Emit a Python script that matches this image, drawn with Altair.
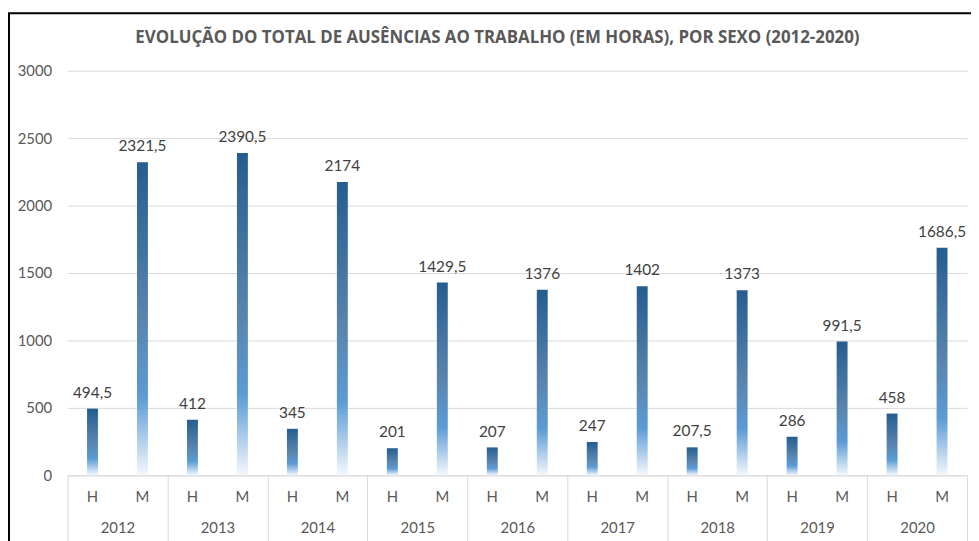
import altair as alt
import pandas as pd

years = ["2012", "2013", "2014", "2015", "2016", "2017", "2018", "2019", "2020"]
h_values = [494.5, 412, 345, 201, 207, 247, 207.5, 286, 458]
m_values = [2321.5, 2390.5, 2174, 1429.5, 1376, 1402, 1373, 991.5, 1686.5]
sexes = ["H", "M"]
y_ticks = [0, 500, 1000, 1500, 2000, 2500, 3000]
title_text = "EVOLUÇÃO DO TOTAL DE AUSÊNCIAS AO TRABALHO (EM HORAS), POR SEXO (2012-2020)"

rows = []
for i, y in enumerate(years):
    for s, vals in zip(sexes, [h_values, m_values]):
        v = vals[i]
        rows.append({"ano": y, "sexo": s, "horas": v,
                     "rotulo": f"{v:g}".replace(".", ",")})
df = pd.DataFrame(rows)

W, H = 907, 408
FONT = "Lato"
GREY = "#595959"

x_enc = alt.X("ano:N", sort=years, title=None,
              scale=alt.Scale(paddingInner=0, paddingOuter=0),
              axis=alt.Axis(labelAngle=0, tickBand="extent", tickSize=66,
                            tickColor="#d9d9d9", domainColor="#d9d9d9",
                            labelPadding=-13, labelBaseline="middle",
                            labelColor=GREY, labelFont=FONT, labelFontSize=15))
xo_enc = alt.XOffset("sexo:N", sort=sexes,
                     scale=alt.Scale(paddingInner=0, paddingOuter=0))
y_enc = alt.Y("horas:Q", title=None,
              scale=alt.Scale(domain=[0, 3000]),
              axis=alt.Axis(values=y_ticks, format="d", domain=False, ticks=False,
                            gridColor="#d9d9d9", labelPadding=16,
                            labelColor=GREY, labelFont=FONT, labelFontSize=15))

gradient = alt.Gradient(
    gradient="linear", x1=0, x2=0, y1=0, y2=1,
    stops=[alt.GradientStop(color="#255d90", offset=0),
           alt.GradientStop(color="#5985ad", offset=0.5),
           alt.GradientStop(color="#5b9bd5", offset=0.75),
           alt.GradientStop(color="#f4f8fd", offset=1)])

base = alt.Chart(df)
bars = base.mark_bar(color=gradient, size=11).encode(x=x_enc, xOffset=xo_enc, y=y_enc)
labels = base.mark_text(baseline="bottom", dy=-8, font=FONT, fontSize=15.5,
                        color="#404040").encode(
    x=alt.X("ano:N", sort=years), xOffset=xo_enc, y="horas:Q", text="rotulo:N")
sex_labels = base.mark_text(baseline="middle", font=FONT, fontSize=15,
                            color=GREY).encode(
    x=alt.X("ano:N", sort=years), xOffset=xo_enc,
    y=alt.value(H + 22), text="sexo:N")

title = alt.Chart(pd.DataFrame({"t": [title_text]})).mark_text(
    font="Open Sans", fontSize=17, fontWeight="bold", color=GREY,
    baseline="middle", align="center").encode(
    x=alt.value(W / 2 - 20), y=alt.value(-33), text="t:N")

frame = alt.Chart(pd.DataFrame({"a": [0]})).mark_rect(
    fill=None, stroke="#000000", strokeWidth=2).encode(
    x=alt.value(-59), x2=alt.value(W + 60),
    y=alt.value(-58), y2=alt.value(H + 120))

chart = alt.layer(frame, bars, labels, sex_labels, title).properties(
    width=W, height=H,
    autosize=alt.AutoSizeParams(type="none"),
    padding={"left": 60, "top": 61, "right": 4, "bottom": 64},
).configure_view(stroke=None)

chart.save("out.html", embed_options={"renderer": "svg", "actions": False})
